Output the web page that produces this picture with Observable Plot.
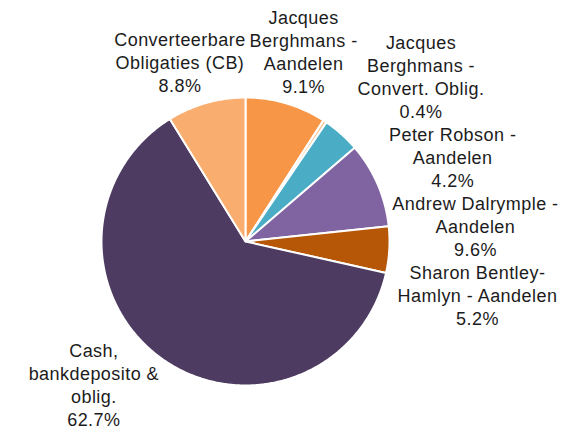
<!DOCTYPE html>
<html>
<head>
<meta charset="utf-8">
<script src="https://cdn.jsdelivr.net/npm/d3@7"></script>
<script src="https://cdn.jsdelivr.net/npm/@observablehq/plot@0.6"></script>
<style>
  body { margin: 0; background: #ffffff; }
  #chart { width: 561px; height: 430px; }
  #chart svg text { letter-spacing: 0.45px; }
</style>
</head>
<body>
<div id="chart"></div>
<script>
// ---- data ----
const categories = [
  "Jacques\nBerghmans -\nAandelen",
  "Jacques\nBerghmans -\nConvert. Oblig.",
  "Peter Robson -\nAandelen",
  "Andrew Dalrymple -\nAandelen",
  "Sharon Bentley-\nHamlyn - Aandelen",
  "Cash,\nbankdeposito &\noblig.",
  "Converteerbare\nObligaties (CB)"
];
const values = [9.1, 0.4, 4.2, 9.6, 5.2, 62.7, 8.8];
const valueLabels = ["9.1%", "0.4%", "4.2%", "9.6%", "5.2%", "62.7%", "8.8%"];
const colors = ["#F79646", "#FAC090", "#4BACC6", "#8064A2", "#B65708", "#4E3B62", "#F9AD6E"];

// ---- layout ----
const W = 561, H = 430;
const cx = 245, cy = 241, R = 144, pad = 8;
const fontSize = 18, lineH = 23, letterSp = 0.45;
const fontFamily = "'Liberation Sans', Arial, sans-serif";

const total = d3.sum(values);
let acc = 0;
const slices = values.map((v, i) => {
  const a0 = acc / total * 2 * Math.PI;
  acc += v;
  const a1 = acc / total * 2 * Math.PI;
  return {i, cat: categories[i], a0, a1, mid: (a0 + a1) / 2};
});

// polygon points for each slice (computed from the values)
const slicePts = [];
for (const s of slices) {
  slicePts.push({cat: s.cat, x: 0, y: 0});
  const n = Math.max(2, Math.ceil((s.a1 - s.a0) / (Math.PI / 360)));
  for (let k = 0; k <= n; k++) {
    const a = s.a0 + (s.a1 - s.a0) * k / n;
    slicePts.push({cat: s.cat, x: R * Math.sin(a), y: -R * Math.cos(a)});
  }
}

// label placement (outside end, kept inside the frame, with overlap resolution)
const ctx = document.createElement("canvas").getContext("2d");
ctx.font = `${fontSize}px ${fontFamily}`;
const Rl = R + pad;
const labels = slices.map(s => {
  const text = s.cat + "\n" + valueLabels[s.i];
  const lines = text.split("\n");
  const w = d3.max(lines, l => ctx.measureText(l).width + l.length * letterSp);
  const h = lines.length * lineH;
  const dx = Math.sin(s.mid), dy = -Math.cos(s.mid);
  const x = Rl * dx + dx * w / 2;
  const y = Rl * dy + dy * h / 2;
  return {text, w, h, x, y, dx, dy, mid: s.mid};
});
const box = l => ({left: l.x - l.w / 2, right: l.x + l.w / 2, top: l.y - l.h / 2, bottom: l.y + l.h / 2});

// slide labels along the tangent if they leave the frame vertically
for (const l of labels) {
  const B = box(l);
  const over = B.bottom - (H - cy);
  const under = -cy - B.top;
  let tx = Math.cos(l.mid), ty = Math.sin(l.mid); // clockwise tangent (y down)
  if (over > 0) {
    if (ty > 0) { tx = -tx; ty = -ty; }
    const t = over / Math.abs(ty);
    l.x += tx * t; l.y += ty * t;
  } else if (under > 0) {
    if (ty < 0) { tx = -tx; ty = -ty; }
    const t = under / Math.abs(ty);
    l.x += tx * t; l.y += ty * t;
  }
}

const overlap = (a, b) => {
  const A = box(a), B = box(b);
  return A.left < B.right && B.left < A.right && A.top < B.bottom && B.top < A.bottom;
};
const right = labels.filter(l => l.dx >= 0).sort((a, b) => a.mid - b.mid);
for (let k = 1; k < right.length; k++) {
  const cur = right[k];
  for (let j = 0; j < k; j++) {
    const prev = right[j];
    if (!overlap(cur, prev)) continue;
    const P = box(prev), C = box(cur);
    const sx = P.right - C.left, sy = P.bottom - C.top;
    if (sx < sy) {
      cur.x += sx;
    } else {
      cur.y += sy;
      const B = box(cur);
      const yNear = (B.top <= 0 && B.bottom >= 0) ? 0 : (B.bottom < 0 ? B.bottom : B.top);
      const left = Math.sqrt(Math.max(0, Rl * Rl - yNear * yNear));
      cur.x = Math.max(cur.x, left + cur.w / 2);
    }
  }
}
// keep inside the frame horizontally
for (const l of labels) {
  const B = box(l);
  if (B.right > W - cx - 3) l.x -= B.right - (W - cx - 3);
  if (B.left < -cx + 3) l.x += (-cx + 3) - B.left;
}
// left-side labels give way to right-side ones
const leftSide = labels.filter(l => l.dx < 0);
for (const l of leftSide) {
  for (const r of right) {
    if (!overlap(l, r)) continue;
    const sx = box(l).right - box(r).left + 4;
    l.x -= sx;
  }
}

const chart = Plot.plot({
  width: W,
  height: H,
  margin: 0,
  x: {domain: [-cx, W - cx], range: [0, W], axis: null},
  y: {domain: [-cy, H - cy], range: [0, H], axis: null},
  color: {domain: categories, range: colors},
  style: {fontFamily, background: "#ffffff", overflow: "visible"},
  marks: [
    Plot.line(slicePts, {
      x: "x", y: "y", z: "cat", fill: "cat",
      stroke: "#ffffff", strokeWidth: 2, strokeLinejoin: "round",
      curve: "linear-closed"
    }),
    Plot.text(labels, {
      x: "x", y: "y", text: "text",
      fontSize, lineHeight: lineH / fontSize,
      fill: "#1c1c1c", textAnchor: "middle"
    })
  ]
});
document.getElementById("chart").appendChild(chart);
</script>
</body>
</html>
